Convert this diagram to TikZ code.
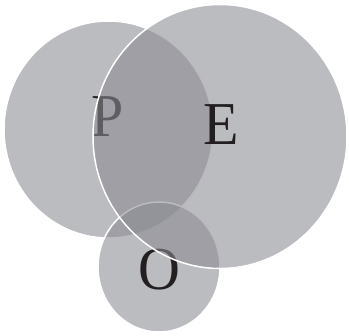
\documentclass[tikz,border=0pt]{standalone}
\usepackage{fontspec}
\setmainfont{Liberation Serif}
\definecolor{vgray}{RGB}{138,139,146}
\definecolor{ink}{RGB}{35,31,32}
\tikzset{
  venn/.style={fill=vgray,fill opacity=0.58,draw=white,line width=1.5pt},
  letter/.style={text=ink,inner sep=0pt,yscale=1.05,font=\fontsize{58}{60}\selectfont}
}
\begin{document}
\begin{tikzpicture}[x=1pt,y=-1pt]
\useasboundingbox (0,0) rectangle (349,336);
% circles P and O, then their letters, then E on top
\draw[venn] (108.5,129.5) ellipse [x radius=104.5pt,y radius=108.5pt];
\draw[venn] (159,267) ellipse [x radius=61pt,y radius=65pt];
\node[letter] (p) at (108,117) {P};
\node[letter] (o) at (159,270) {O};
\draw[venn] (220,136.5) ellipse [x radius=127pt,y radius=132pt];
\node[letter] (e) at (221,125) {E};
\end{tikzpicture}
\end{document}
